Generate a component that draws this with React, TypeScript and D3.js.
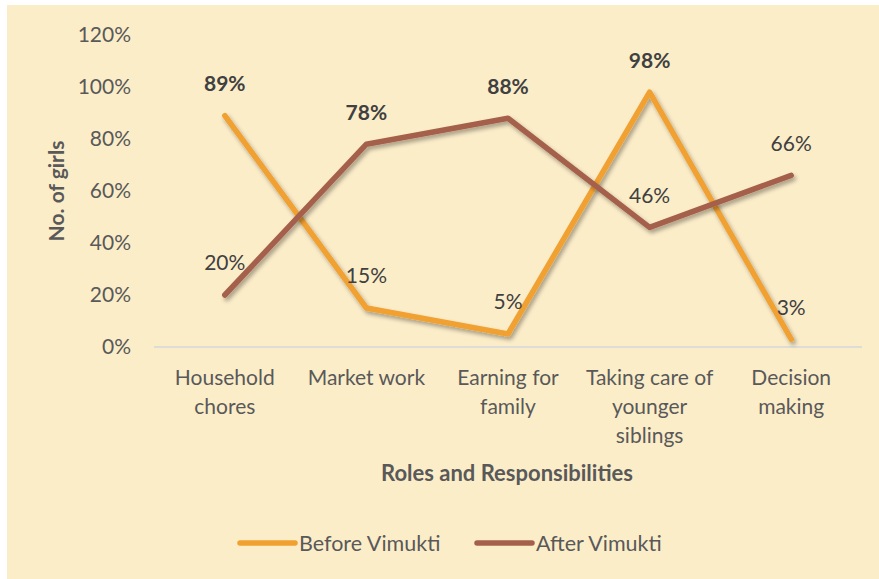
import React from 'react';
import * as d3 from 'd3';

const categories = [
  ['Household', 'chores'],
  ['Market work'],
  ['Earning for', 'family'],
  ['Taking care of', 'younger', 'siblings'],
  ['Decision', 'making'],
];
const beforeValues = [89, 15, 5, 98, 3];
const afterValues = [20, 78, 88, 46, 66];
// which data labels are bold in the original
const beforeBold = [true, false, false, true, false];
const afterBold = [false, true, true, false, false];
const yTicks = [0, 20, 40, 60, 80, 100, 120];

const W = 879;
const H = 579;
const FONT = 'Lato, "Open Sans", sans-serif';
const TEXT = '#595959';
const LABEL = '#404040';
const ORANGE = '#F0A131';
const BROWN = '#A5604B';
const FS = 21;

export default function App() {
  const x = d3
    .scaleBand<number>()
    .domain(categories.map((_, i) => i))
    .range([154, 862]);
  const y = d3.scaleLinear().domain([0, 120]).range([347, 35]);
  const cx = (i: number) => (x(i) as number) + x.bandwidth() / 2;

  const line = d3
    .line<number>()
    .x((_, i) => cx(i))
    .y((d) => y(d));

  const series = [
    { name: 'Before Vimukti', values: beforeValues, bold: beforeBold, color: ORANGE },
    { name: 'After Vimukti', values: afterValues, bold: afterBold, color: BROWN },
  ];

  return (
    <div style={{ position: 'absolute', left: 0, top: 0 }}>
      <svg width={W} height={H} style={{ display: 'block', fontFamily: FONT }}>
        <defs>
          <filter id="shadow" x="-10%" y="-10%" width="120%" height="120%">
            <feDropShadow dx="2" dy="3" stdDeviation="2" floodColor="#000" floodOpacity="0.35" />
          </filter>
        </defs>
        <rect x={0} y={0} width={W} height={H} fill="#ffffff" />
        <rect x={7} y={5} width={W - 7} height={H - 5} fill="#FCEDC9" />

        {/* Y axis ticks */}
        {yTicks.map((t) => (
          <text
            key={t}
            x={131}
            y={y(t)}
            dy="0.35em"
            textAnchor="end"
            fontSize={FS}
            fill={TEXT}
          >
            {`${t}%`}
          </text>
        ))}

        {/* baseline */}
        <line x1={154} x2={862} y1={y(0)} y2={y(0)} stroke="#D3D6DA" strokeWidth={1.5} />

        {/* categories */}
        {categories.map((lines, i) =>
          lines.map((s, j) => (
            <text
              key={`${i}-${j}`}
              x={cx(i)}
              y={378 + j * 29}
              dy="0.35em"
              textAnchor="middle"
              fontSize={FS}
              fill={TEXT}
            >
              {s}
            </text>
          ))
        )}

        {/* lines */}
        {series.map((s) => (
          <path
            key={s.name}
            d={line(s.values) || ''}
            fill="none"
            stroke={s.color}
            strokeWidth={5.5}
            strokeLinecap="round"
            strokeLinejoin="round"
            filter="url(#shadow)"
          />
        ))}

        {/* data labels */}
        {series.map((s) =>
          s.values.map((v, i) => (
            <text
              key={`${s.name}-${i}`}
              x={cx(i)}
              y={y(v) - 32}
              dy="0.35em"
              textAnchor="middle"
              fontSize={FS}
              fontWeight={s.bold[i] ? 'bold' : 'normal'}
              fill={LABEL}
            >
              {`${v}%`}
            </text>
          ))
        )}

        {/* axis titles */}
        <text
          transform={`translate(57,${y(60)}) rotate(-90)`}
          textAnchor="middle"
          dy="0.35em"
          fontSize={21}
          fontWeight="bold"
          fill={TEXT}
        >
          No. of girls
        </text>
        <text x={507} y={473} dy="0.35em" textAnchor="middle" fontSize={22} fontWeight="bold" fill={TEXT}>
          Roles and Responsibilities
        </text>

        {/* legend */}
        {series.map((s, i) => {
          const lx = i === 0 ? 240 : 477;
          return (
            <g key={s.name}>
              <line
                x1={lx}
                x2={lx + 55}
                y1={543}
                y2={543}
                stroke={s.color}
                strokeWidth={5.5}
                strokeLinecap="round"
              />
              <text x={lx + 59} y={543} dy="0.35em" fontSize={21.5} fill={TEXT}>
                {s.name}
              </text>
            </g>
          );
        })}
      </svg>
    </div>
  );
}
